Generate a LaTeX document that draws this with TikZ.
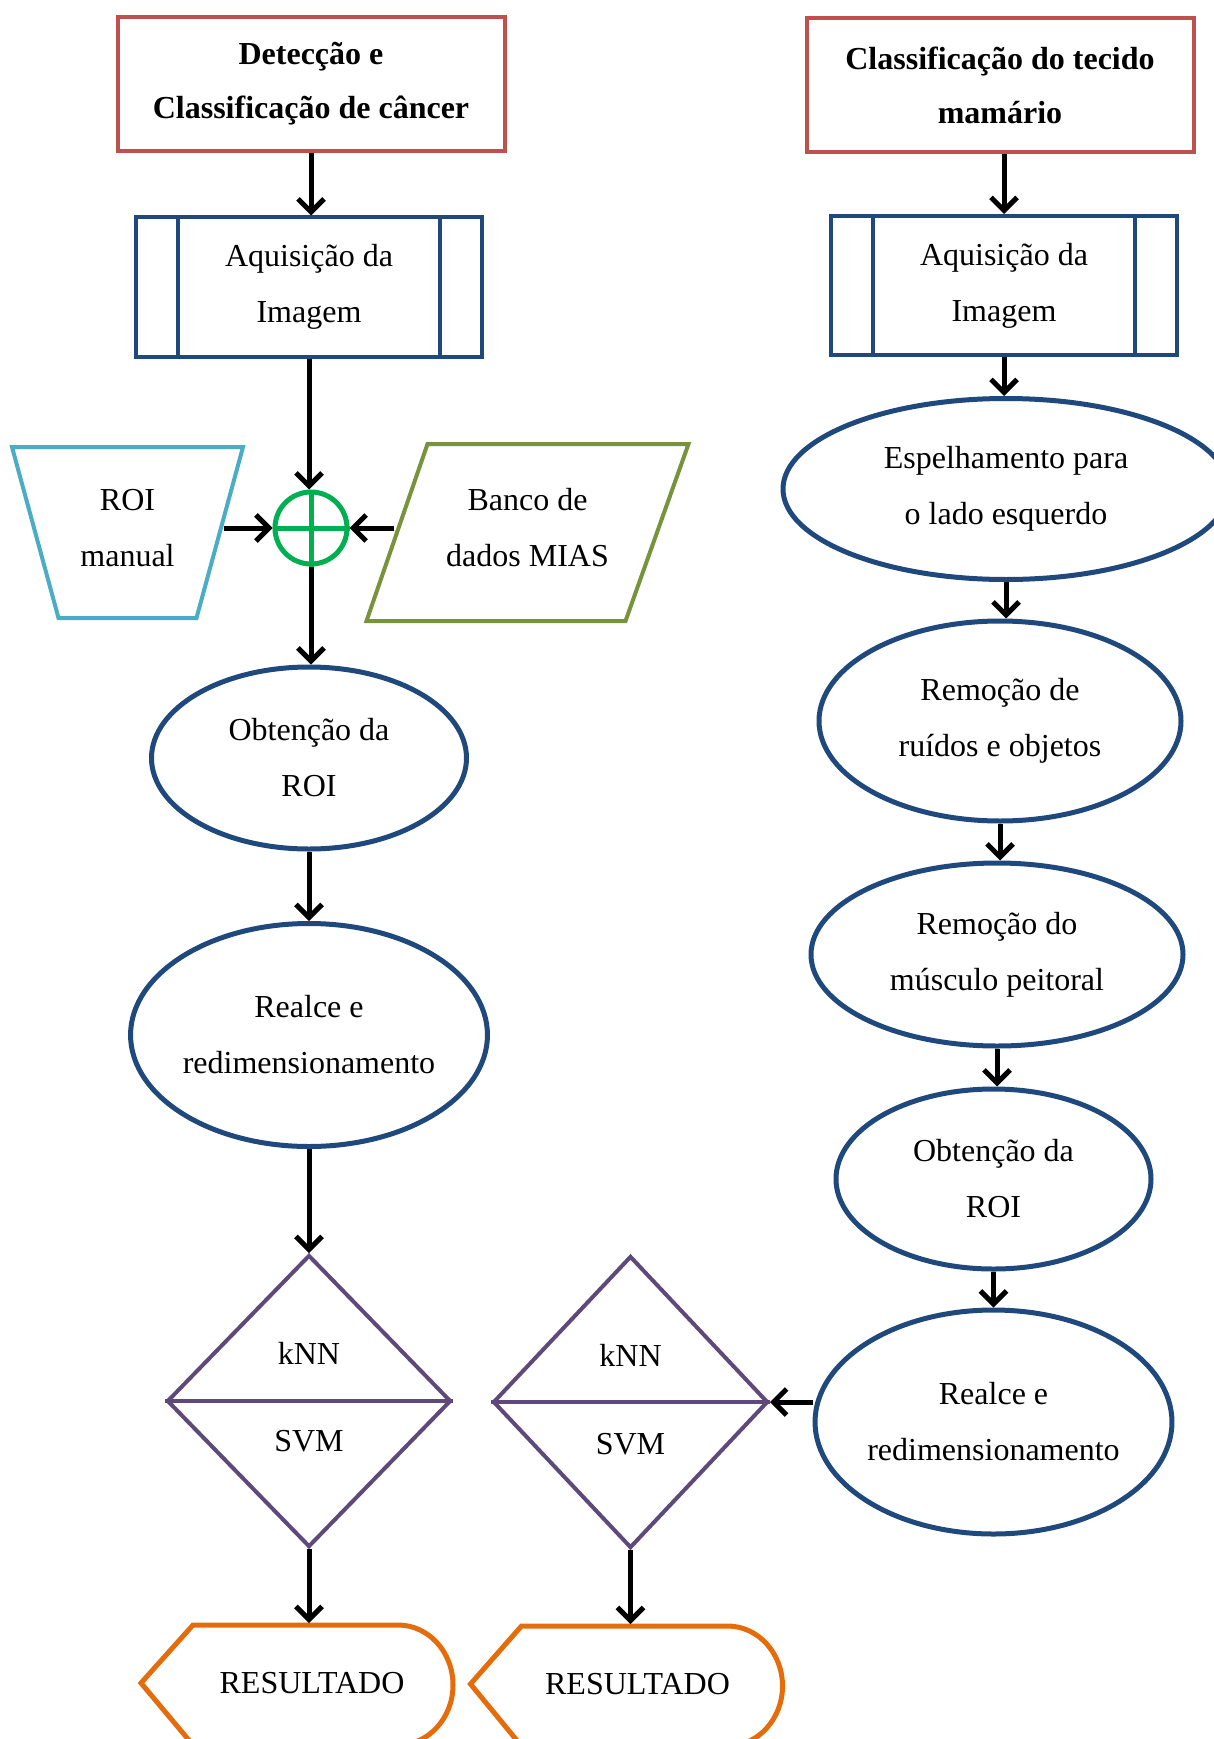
\documentclass[tikz,border=0pt]{standalone}
\usepackage{fontspec}
\setmainfont{Liberation Serif}
\usepackage{xcolor}
\usepackage{tikz}
\usetikzlibrary{positioning,shapes.geometric,arrows.meta}

\definecolor{boxred}{RGB}{192,80,77}
\definecolor{boxblue}{RGB}{31,73,125}
\definecolor{sumgreen}{RGB}{0,176,80}
\definecolor{roiblue}{RGB}{75,172,198}
\definecolor{miasgreen}{RGB}{119,147,60}
\definecolor{clfpurple}{RGB}{95,73,122}
\definecolor{resorange}{RGB}{228,108,10}

\begin{document}
\begin{tikzpicture}[x=0.5pt, y=-0.5pt, line width=2pt, >={Straight Barb[length=6.5pt,width=13pt]},
  every node/.append style={font=\fontsize{16}{28}\selectfont, align=center},
  title/.style={draw=boxred, shape=rectangle, minimum width=193.5pt, minimum height=67pt, font=\fontsize{16}{27}\selectfont\bfseries},
  proc/.style={draw=boxblue, shape=rectangle, minimum width=173pt, minimum height=69.5pt},
  stage/.style={draw=boxblue, shape=ellipse, line width=2.5pt, inner sep=0pt},
  clf/.style={draw=clfpurple, shape=diamond, inner sep=0pt, minimum width=142pt, minimum height=146pt},
  result/.style={minimum height=58pt, inner sep=0pt},
  flow/.style={->, line width=2.5pt}]
\useasboundingbox (0,0) rectangle (1214,1739);

% left: deteccao e classificacao
\node[title] (det1) at (311,84) {Detecção e\\Classificação de câncer};
\node[proc, below of=det1, node distance=101.5pt, xshift=-1pt] (acq1) {Aquisição da\\Imagem};
\draw[boxblue] ([xshift=22pt]acq1.north west) -- ([xshift=22pt]acq1.south west);
\draw[boxblue] ([xshift=-22pt]acq1.north east) -- ([xshift=-22pt]acq1.south east);
\node[draw=sumgreen, shape=circle, line width=2.5pt, minimum size=36pt, inner sep=0pt, below of=acq1, node distance=120.5pt, xshift=1pt] (sum) {};
\draw[sumgreen, line width=2.5pt] (sum.north) -- (sum.south);
\draw[sumgreen, line width=2.5pt] (sum.west) -- (sum.east);
\node[minimum width=94pt, minimum height=87pt, left of=sum, node distance=91.75pt] (roi) {ROI\\manual};
\draw[roiblue, shift={(roi.center)}] (-115.5,-81) -- (115.5,-81) -- (69,90) -- (-69,90) -- cycle;
\node[minimum width=132pt, minimum height=89pt, right of=sum, node distance=108.25pt] (mias) {Banco de\\dados MIAS};
\draw[miasgreen, shift={(mias.center)}] (-100,-84) -- (161,-84) -- (98,93) -- (-161,93) -- cycle;
\node[stage, minimum width=157.5pt, minimum height=91pt, below of=sum, node distance=115pt, xshift=-1pt] (obt1) {Obtenção da\\ROI};
\node[stage, minimum width=176pt, minimum height=111.5pt, below of=obt1, node distance=138.5pt] (real1) {Realce e\\redimensionamento};
\node[clf, below of=real1, node distance=183pt] (clf1) {};
\draw[clfpurple] (clf1.west) -- (clf1.east);
\node[above of=clf1, node distance=24pt] (knn1) {kNN};
\node[below of=clf1, node distance=20pt] (svm1) {SVM};
\node[result, below of=clf1, node distance=141pt, xshift=1.5pt] (res1) {RESULTADO};
\draw[resorange, line width=2.5pt, shift={(res1.center)}] (-171,0) -- (-119,-58) -- (86,-58) arc[start angle=-90, end angle=90, x radius=55, y radius=60] -- (-119,62) -- cycle;

\draw[flow] (det1.south) -- (det1.south |- acq1.north);
\draw[flow] (acq1.south) -- (acq1.south |- sum.north);
\draw[flow] (roi.east |- sum.west) -- (sum.west);
\draw[flow] (mias.west |- sum.east) -- (sum.east);
\draw[flow] (sum.south) -- (sum.south |- obt1.north);
\draw[flow] (obt1.south) -- (obt1.south |- real1.north);
\draw[flow] (real1.south) -- (real1.south |- clf1.north);
\draw[flow] (clf1.south) -- (clf1.south |- res1.north);

% right: tecido mamario
\node[title] (det2) at (1000,85) {Classificação do tecido\\mamário};
\node[proc, below of=det2, node distance=100.25pt, xshift=2pt] (acq2) {Aquisição da\\Imagem};
\draw[boxblue] ([xshift=22pt]acq2.north west) -- ([xshift=22pt]acq2.south west);
\draw[boxblue] ([xshift=-22pt]acq2.north east) -- ([xshift=-22pt]acq2.south east);
\node[stage, minimum width=223pt, minimum height=90.5pt, below of=acq2, node distance=101.75pt, xshift=1pt] (esp) {Espelhamento para\\o lado esquerdo};
\node[stage, minimum width=181pt, minimum height=100pt, below of=esp, node distance=116pt, xshift=-3pt] (rem1) {Remoção de\\ruídos e objetos};
\node[stage, minimum width=186pt, minimum height=91.5pt, below of=rem1, node distance=116.75pt, xshift=-1.5pt] (rem2) {Remoção do\\músculo peitoral};
\node[stage, minimum width=157.5pt, minimum height=90pt, below of=rem2, node distance=112.25pt, xshift=-1.75pt] (obt2) {Obtenção da\\ROI};
\node[stage, minimum width=176pt, minimum height=112pt, below of=obt2, node distance=121.5pt] (real2) {Realce e\\redimensionamento};
\node[clf, minimum width=137.5pt, left of=real2, node distance=181.5pt, yshift=10pt] (clf2) {};
\draw[clfpurple] (clf2.west) -- (clf2.east);
\node[above of=clf2, node distance=23.5pt] (knn2) {kNN};
\node[below of=clf2, node distance=21pt] (svm2) {SVM};
\node[result, below of=clf2, node distance=141pt, xshift=3.5pt] (res2) {RESULTADO};
\draw[resorange, line width=2.5pt, shift={(res2.center)}] (-167,0) -- (-116,-58) -- (90,-58) arc[start angle=-90, end angle=90, x radius=55, y radius=60] -- (-116,62) -- cycle;

\draw[flow] (acq2.north |- det2.south) -- (acq2.north);
\draw[flow] (acq2.south) -- (acq2.south |- esp.north);
\draw[flow] (esp.south) -- (esp.south |- rem1.north);
\draw[flow] (rem1.south) -- (rem1.south |- rem2.north);
\draw[flow] (rem2.south) -- (rem2.south |- obt2.north);
\draw[flow] (obt2.south) -- (obt2.south |- real2.north);
\draw[flow] (clf2.east -| real2.west) -- (clf2.east);
\draw[flow] (clf2.south) -- (clf2.south |- res2.north);
\end{tikzpicture}
\end{document}
